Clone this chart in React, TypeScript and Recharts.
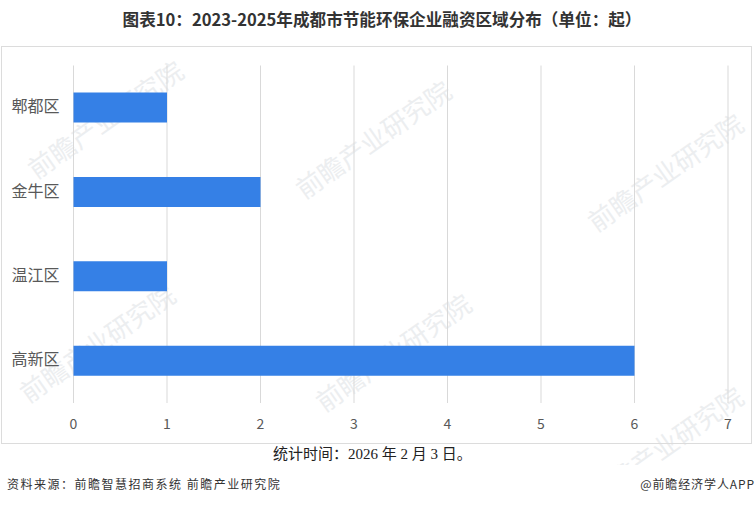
import { BarChart, Bar, XAxis, YAxis, CartesianGrid } from 'recharts';

const districts = ['郫都区', '金牛区', '温江区', '高新区'];
const dealCounts = [1, 2, 1, 6];
const xTicks = [0, 1, 2, 3, 4, 5, 6, 7];
const rows = districts.map((name, i) => ({ name, count: dealCounts[i] }));

const TITLE = '图表10：2023-2025年成都市节能环保企业融资区域分布（单位：起）';
const NOTE = '统计时间：2026 年 2 月 3 日。';
const SOURCE = '资料来源：前瞻智慧招商系统 前瞻产业研究院';
const BRAND = '@前瞻经济学人APP';
const WATERMARK = '前瞻产业研究院';
const watermarkSpots = [
  [30, 152],
  [298, 172],
  [590, 205],
  [22, 376],
  [318, 385],
  [590, 478],
];

const sans = '"Noto Sans CJK SC", "Noto Sans", sans-serif';

export default function App() {
  return (
    <div style={{ position: 'absolute', left: 0, top: 0, width: 756, height: 505, background: '#fff', overflow: 'hidden', fontFamily: sans }}>
      {watermarkSpots.map(([x, y], i) => (
        <div
          key={i}
          style={{
            position: 'absolute',
            left: x,
            top: y,
            fontSize: 26,
            whiteSpace: 'nowrap',
            color: '#eceef0',
            transform: 'rotate(-35deg)',
            transformOrigin: 'left center',
          }}
        >
          {WATERMARK}
        </div>
      ))}
      <div style={{ position: 'absolute', left: 0, top: 465, width: 756, height: 40, background: '#fff' }} />
      <div style={{ position: 'absolute', left: 4, width: 756, top: 8, textAlign: 'center', fontSize: 16.6, fontWeight: 700, lineHeight: '22px', color: '#333', whiteSpace: 'nowrap' }}>
        {TITLE}
      </div>
      <div style={{ position: 'absolute', left: 1, top: 46, width: 749, height: 396, border: '1px solid #dcdcdc' }} />
      <div style={{ position: 'absolute', left: 0, top: 0 }}>
        <BarChart
          width={756}
          height={505}
          layout="vertical"
          data={rows}
          barSize={30}
          margin={{ top: 65.5, right: 28, bottom: 72, left: 13.5 }}
        >
          <CartesianGrid horizontal={false} stroke="#d9d9d9" />
          <XAxis
            type="number"
            domain={[0, 7]}
            ticks={xTicks}
            axisLine={false}
            tickLine={false}
            tickMargin={10}
            tick={{ fontSize: 14, fill: '#595959', fontFamily: sans }}
          />
          <YAxis
            type="category"
            dataKey="name"
            width={60}
            axisLine={false}
            tickLine={false}
            tickMargin={8}
            tick={{ fontSize: 16, fill: '#595959', fontFamily: sans, dy: -1 }}
          />
          <Bar dataKey="count" fill="#3580e6" isAnimationActive={false} />
        </BarChart>
      </div>
      <div style={{ position: 'absolute', left: 273, top: 443, fontSize: 15, lineHeight: '22px', color: '#222', whiteSpace: 'nowrap', fontFamily: '"Liberation Serif", "Noto Sans CJK SC", serif' }}>
        {NOTE}
      </div>
      <div style={{ position: 'absolute', left: 7, top: 475, fontSize: 12, letterSpacing: 1.5, lineHeight: '18px', color: '#333', whiteSpace: 'nowrap' }}>
        {SOURCE}
      </div>
      <div style={{ position: 'absolute', right: 1, top: 475, fontSize: 12, letterSpacing: 0.9, lineHeight: '18px', color: '#333', whiteSpace: 'nowrap' }}>
        {BRAND}
      </div>
    </div>
  );
}
